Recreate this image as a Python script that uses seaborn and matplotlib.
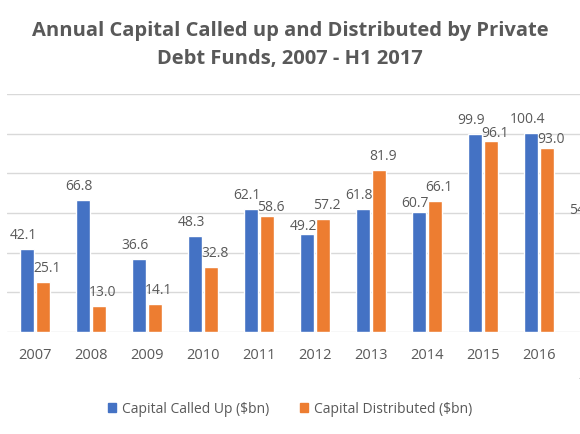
import matplotlib
matplotlib.use("Agg")
import matplotlib.pyplot as plt
import seaborn as sns
import pandas as pd

years = ["2007", "2008", "2009", "2010", "2011", "2012", "2013", "2014", "2015", "2016", "H1\n2017"]
called_up = [42.1, 66.8, 36.6, 48.3, 62.1, 49.2, 61.8, 60.7, 99.9, 100.4, 54.3]
distributed = [25.1, 13.0, 14.1, 32.8, 58.6, 57.2, 81.9, 66.1, 96.1, 93.0, 40.0]
series_names = ["Capital Called Up ($bn)", "Capital Distributed ($bn)"]
colors = ["#4472C4", "#ED7D31"]

df = pd.DataFrame({
    "year": years * 2,
    "value": called_up + distributed,
    "series": [series_names[0]] * len(years) + [series_names[1]] * len(years),
})

sns.set_theme(style="white")
plt.rcParams["font.family"] = ["Open Sans", "DejaVu Sans"]
grey = "#595959"

fig = plt.figure(figsize=(5.8, 4.35), dpi=100)
ax = fig.add_axes([7 / 580, 102 / 435, 616 / 580, 238 / 435])
sns.barplot(data=df, x="year", y="value", hue="series", palette=colors,
            width=0.56, gap=0.12, ax=ax, legend=False, saturation=1)

ax.set_ylim(0, 120)
ax.set_yticks([0, 20, 40, 60, 80, 100, 120])
ax.set_yticklabels([])
ax.yaxis.grid(True, color="#D9D9D9", linewidth=1)
ax.set_axisbelow(True)
for s in ax.spines.values():
    s.set_visible(False)
ax.tick_params(axis="y", length=0)
ax.tick_params(axis="x", length=0, labelsize=10.5, labelcolor=grey, pad=11)
for t in ax.get_xticklabels():
    t.set_linespacing(1.45)
    t.set_verticalalignment("top")
ax.set_xlabel("")
ax.set_ylabel("")

# data labels, nudged sideways and lowered when a pair would collide
shifts = [-4, 4]
blue_bars, orange_bars = ax.containers[0], ax.containers[1]
for i, (bb, ob) in enumerate(zip(blue_bars, orange_bars)):
    vb, vo = called_up[i], distributed[i]
    pads = [5, 5]
    if abs(vb - vo) < 10:
        if vb < vo:
            pads[0] = 1
        else:
            pads[1] = 1
    for bar, v, dx, pad in ((bb, vb, shifts[0], pads[0]), (ob, vo, shifts[1], pads[1])):
        ax.annotate(f"{v:.1f}", xy=(bar.get_x() + bar.get_width() / 2, bar.get_height()),
                    xytext=(dx * 0.72, pad), textcoords="offset points",
                    ha="center", va="bottom", fontsize=10, color=grey,
                    annotation_clip=False)

fig.text(0.5, 1 - 31 / 435, "Annual Capital Called up and Distributed by Private",
         ha="center", va="center", fontsize=14.5, fontweight="bold", color=grey)
fig.text(0.5, 1 - 59 / 435, "Debt Funds, 2007 - H1 2017",
         ha="center", va="center", fontsize=14.5, fontweight="bold", color=grey)

handles = [plt.Rectangle((0, 0), 1, 1, color=c) for c in colors]
fig.legend(handles, series_names, loc="center", bbox_to_anchor=(0.5, 1 - 410 / 435),
           ncol=2, frameon=False, fontsize=10, labelcolor=grey,
           handlelength=0.6, handleheight=0.6, handletextpad=0.4, columnspacing=2.2)

fig.savefig("out.png", dpi=100)
